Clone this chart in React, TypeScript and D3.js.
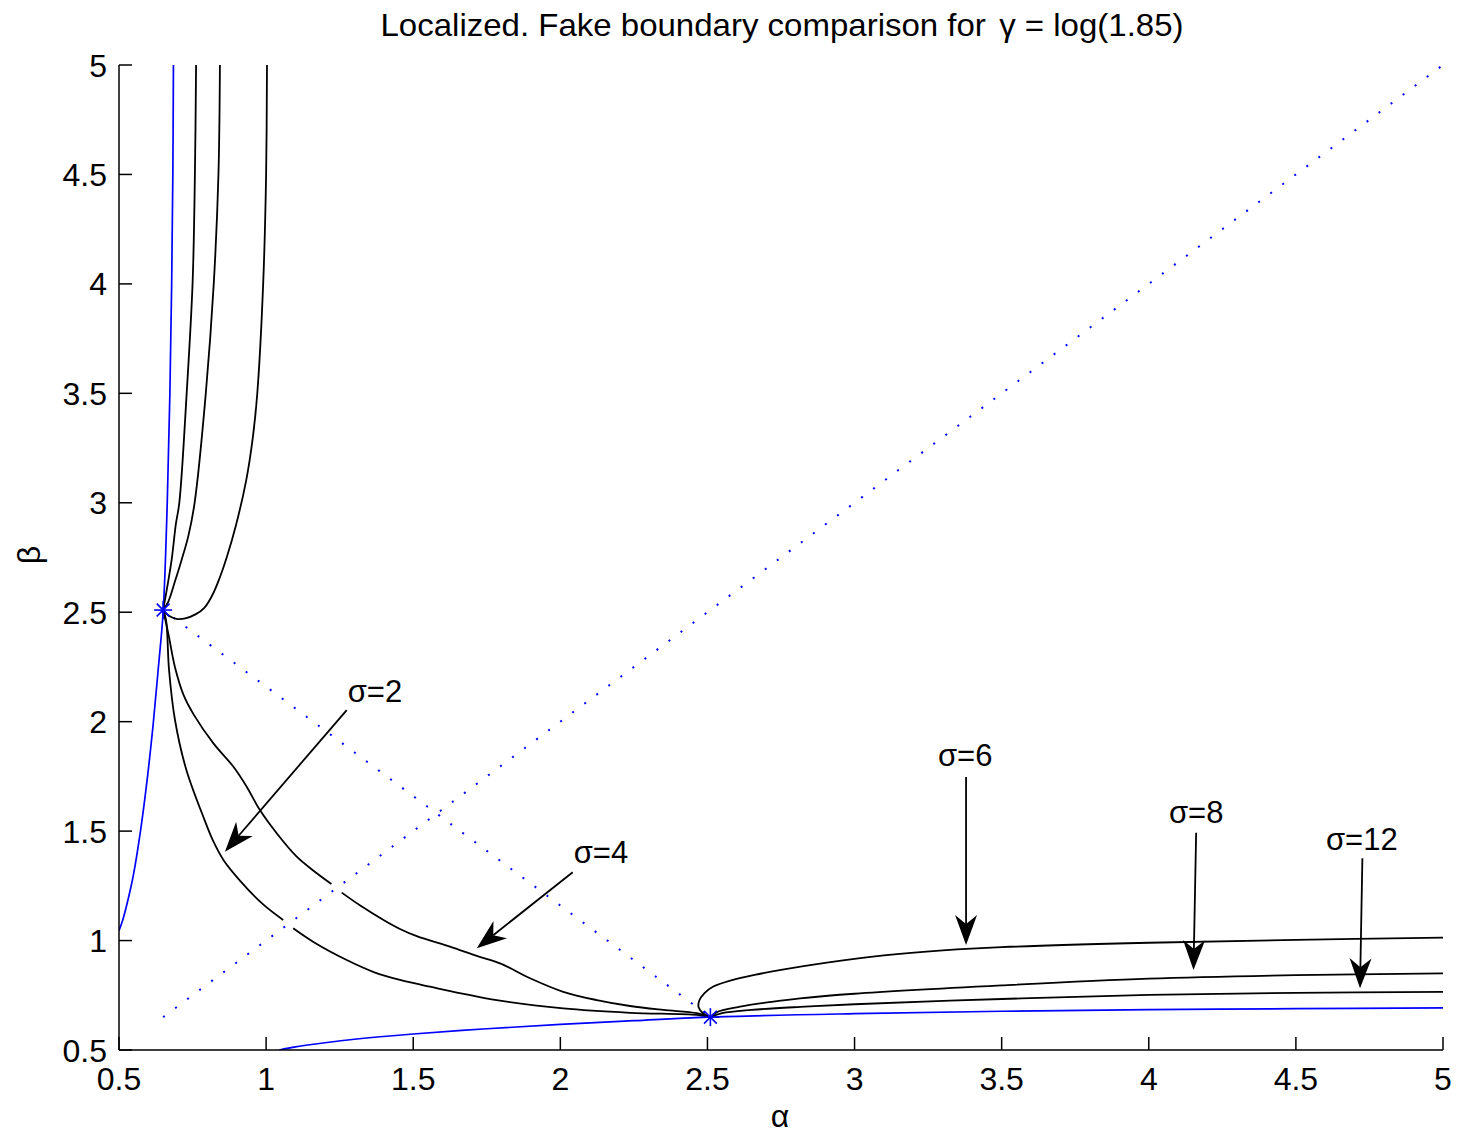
import React from 'react';
import * as d3 from 'd3';

// ---- axes ----
const xTicks = [0.5, 1, 1.5, 2, 2.5, 3, 3.5, 4, 4.5, 5];
const yTicks = [0.5, 1, 1.5, 2, 2.5, 3, 3.5, 4, 4.5, 5];
const xTickLabels = ['0.5', '1', '1.5', '2', '2.5', '3', '3.5', '4', '4.5', '5'];
const yTickLabels = ['0.5', '1', '1.5', '2', '2.5', '3', '3.5', '4', '4.5', '5'];

// ---- blue boundary curves ----
const blueBottomX = [1.045, 1.1, 1.2, 1.3, 1.5, 1.75, 2.0, 2.25, 2.5, 3.0, 3.5, 4.0, 4.5, 5.0];
const blueBottomY = [0.5, 0.514, 0.533, 0.549, 0.573, 0.597, 0.617, 0.634, 0.65, 0.666, 0.677, 0.684, 0.689, 0.692];
const blueLeftX = [0.5, 0.514, 0.533, 0.549, 0.573, 0.597, 0.617, 0.634, 0.65, 0.664, 0.673, 0.679, 0.683, 0.685];
const blueLeftY = [1.045, 1.1, 1.2, 1.3, 1.5, 1.75, 2.0, 2.25, 2.5, 3.0, 3.5, 4.0, 4.5, 5.0];

// ---- stars ----
const starX = [0.65, 2.51];
const starY = [2.51, 0.65];

// ---- dotted guides ----
const diagX = [0.65, 5];
const diagY = [0.65, 5];
const antiX = [0.65, 2.51];
const antiY = [2.51, 0.65];

// ---- sigma = 2 (two halves, split at the diagonal) ----
const s2aX = [0.65, 0.66, 0.67, 0.69, 0.728, 0.789, 0.82, 0.855, 0.911, 0.99, 1.058];
const s2aY = [2.51, 2.464, 2.237, 2.01, 1.784, 1.557, 1.455, 1.368, 1.274, 1.165, 1.094];
const s2bX = [1.092, 1.165, 1.274, 1.368, 1.455, 1.557, 1.784, 2.01, 2.237, 2.464, 2.51];
const s2bY = [1.056, 0.99, 0.911, 0.855, 0.82, 0.789, 0.728, 0.69, 0.67, 0.66, 0.65];

// ---- sigma = 4 ----
const s4aX = [0.65, 0.668, 0.69, 0.72, 0.755, 0.821, 0.889, 0.934, 0.979, 1.036, 1.104, 1.16, 1.222];
const s4aY = [2.51, 2.4, 2.25, 2.12, 2.03, 1.901, 1.794, 1.703, 1.596, 1.49, 1.383, 1.32, 1.258];
const s4bX = [1.257, 1.32, 1.399, 1.455, 1.512, 1.625, 1.716, 1.795, 1.897, 2.01, 2.124, 2.237, 2.35, 2.464, 2.51];
const s4bY = [1.219, 1.16, 1.094, 1.053, 1.02, 0.972, 0.93, 0.896, 0.828, 0.766, 0.728, 0.701, 0.683, 0.668, 0.65];

// ---- sigma = 6 / 8 / 12 (right branches) ----
const s6rX = [2.51, 2.485, 2.47, 2.472, 2.49, 2.52, 2.58, 2.66, 2.75, 2.9, 3.1, 3.3, 3.5, 4.0, 4.5, 5.0];
const s6rY = [0.65, 0.668, 0.695, 0.725, 0.76, 0.79, 0.818, 0.843, 0.866, 0.898, 0.932, 0.955, 0.97, 0.99, 1.003, 1.013];
const s8rX = [2.51, 2.53, 2.611, 2.724, 2.815, 3.0, 3.5, 4.0, 4.5, 5.0];
const s8rY = [0.65, 0.672, 0.698, 0.721, 0.736, 0.757, 0.795, 0.826, 0.842, 0.85];
const s12rX = [2.51, 2.55, 2.65, 2.815, 3.0, 3.5, 4.0, 4.5, 5.0];
const s12rY = [0.65, 0.668, 0.683, 0.697, 0.709, 0.733, 0.752, 0.761, 0.766];

// ---- upper-left branches ----
const s6uX = [0.65, 0.668, 0.695, 0.725, 0.76, 0.79, 0.818, 0.843, 0.866, 0.898, 0.932, 0.955, 0.97, 0.99, 1.0, 1.003];
const s6uY = [2.51, 2.485, 2.47, 2.472, 2.49, 2.52, 2.58, 2.66, 2.75, 2.9, 3.1, 3.3, 3.5, 4.0, 4.5, 5.0];
const s8uX = [0.65, 0.668, 0.69, 0.713, 0.736, 0.757, 0.795, 0.822, 0.838, 0.843];
const s8uY = [2.51, 2.55, 2.64, 2.74, 2.85, 3.0, 3.5, 4.0, 4.5, 5.0];
const s12uX = [0.65, 0.662, 0.679, 0.693, 0.705, 0.73, 0.75, 0.758, 0.762];
const s12uY = [2.51, 2.6, 2.74, 2.9, 3.0, 3.5, 4.0, 4.5, 5.0];

// ---- annotations ----
const annLabels = ['σ=2', 'σ=4', 'σ=6', 'σ=8', 'σ=12'];
const annTextX = [1.370, 2.138, 3.376, 4.161, 4.724];
const annTextY = [2.090, 1.353, 1.797, 1.536, 1.414];
const annFromX = [1.274, 2.042, 3.379, 4.161, 4.726];
const annFromY = [2.053, 1.312, 1.747, 1.493, 1.376];
const annToX = [0.86, 1.716, 3.379, 4.152, 4.718];
const annToY = [1.406, 0.965, 0.98, 0.865, 0.782];

const W = 1460;
const H = 1134;
const FONT = '"Liberation Sans", Arial, Helvetica, sans-serif';

const x = d3.scaleLinear().domain([0.5, 5]).range([119, 1443]);
const y = d3.scaleLinear().domain([0.5, 5]).range([1050, 65]);

const zip = (xs: number[], ys: number[]): [number, number][] => xs.map((v, i) => [v, ys[i]]);
const lineGen = d3
  .line<[number, number]>()
  .x((d) => x(d[0]))
  .y((d) => y(d[1]))
  .curve(d3.curveCatmullRom.alpha(0.5));
const straight = d3
  .line<[number, number]>()
  .x((d) => x(d[0]))
  .y((d) => y(d[1]));

const blackCurves: [number[], number[]][] = [
  [s2aX, s2aY], [s2bX, s2bY], [s4aX, s4aY], [s4bX, s4bY],
  [s6rX, s6rY], [s8rX, s8rY], [s12rX, s12rY],
  [s6uX, s6uY], [s8uX, s8uY], [s12uX, s12uY],
];
const blueCurves: [number[], number[]][] = [
  [blueBottomX, blueBottomY], [blueLeftX, blueLeftY],
];

function Arrow({ x1, y1, x2, y2 }: { x1: number; y1: number; x2: number; y2: number }) {
  const dx = x2 - x1;
  const dy = y2 - y1;
  const len = Math.hypot(dx, dy);
  const ux = dx / len;
  const uy = dy / len;
  const nx = -uy;
  const ny = ux;
  const L = 30;
  const Wd = 11;
  const notch = 21;
  const bx = x2 - ux * L;
  const by = y2 - uy * L;
  const pts = [
    [x2, y2],
    [bx + nx * Wd, by + ny * Wd],
    [x2 - ux * notch, y2 - uy * notch],
    [bx - nx * Wd, by - ny * Wd],
  ];
  return (
    <g>
      <line x1={x1} y1={y1} x2={x2 - ux * notch} y2={y2 - uy * notch} stroke="#000" strokeWidth={1.8} />
      <polygon points={pts.map((p) => p.join(',')).join(' ')} fill="#000" />
    </g>
  );
}

function Star({ cx, cy }: { cx: number; cy: number }) {
  const r = 9;
  const d = 6.4;
  return (
    <g stroke="#0000ff" strokeWidth={1.6}>
      <line x1={cx - r} y1={cy} x2={cx + r} y2={cy} />
      <line x1={cx} y1={cy - r} x2={cx} y2={cy + r} />
      <line x1={cx - d} y1={cy - d} x2={cx + d} y2={cy + d} />
      <line x1={cx - d} y1={cy + d} x2={cx + d} y2={cy - d} />
    </g>
  );
}

export default function App() {
  const x0 = x(0.5);
  const y0 = y(0.5);
  return (
    <svg
      width={W}
      height={H}
      viewBox={`0 0 ${W} ${H}`}
      style={{ position: 'absolute', left: 0, top: 0, display: 'block', background: '#fff' }}
      fontFamily={FONT}
    >
      <rect x={0} y={0} width={W} height={H} fill="#fff" />
      <defs>
        <clipPath id="plotClip">
          <rect x={x(0.5)} y={y(5) - 1} width={x(5) - x(0.5) + 1} height={y(0.5) - y(5) + 1} />
        </clipPath>
      </defs>

      {/* title */}
      <text x={782} y={36} textAnchor="middle" fontSize={32} fill="#000" textLength={803} lengthAdjust="spacingAndGlyphs">
        Localized. Fake boundary comparison for <tspan dx={4}>γ</tspan> = log(1.85)
      </text>

      <g clipPath="url(#plotClip)">
        {/* dotted guides */}
        <path d={straight(zip(diagX, diagY)) || ''} fill="none" stroke="#0000ff" strokeWidth={2} strokeDasharray="2 13" />
        <path d={straight(zip(antiX, antiY)) || ''} fill="none" stroke="#0000ff" strokeWidth={2} strokeDasharray="2 13" strokeDashoffset={-13} />

        {blueCurves.map(([xs, ys], i) => (
          <path key={'b' + i} d={lineGen(zip(xs, ys)) || ''} fill="none" stroke="#0000ff" strokeWidth={1.7} />
        ))}
        {blackCurves.map(([xs, ys], i) => (
          <path key={'k' + i} d={lineGen(zip(xs, ys)) || ''} fill="none" stroke="#000" strokeWidth={1.8} />
        ))}
      </g>

      {starX.map((sx, i) => (
        <Star key={'s' + i} cx={x(sx)} cy={y(starY[i])} />
      ))}

      {/* annotations */}
      {annLabels.map((lab, i) => (
        <g key={'a' + i}>
          <Arrow x1={x(annFromX[i])} y1={y(annFromY[i])} x2={x(annToX[i])} y2={y(annToY[i])} />
          <text x={x(annTextX[i])} y={y(annTextY[i])} textAnchor="middle" fontSize={31} fill="#000">
            {lab}
          </text>
        </g>
      ))}

      {/* axes */}
      <line x1={x0} y1={y(5)} x2={x0} y2={y0} stroke="#000" strokeWidth={1.5} />
      <line x1={x0} y1={y0} x2={x(5)} y2={y0} stroke="#000" strokeWidth={1.5} />
      {xTicks.map((t, i) => (
        <g key={'xt' + i}>
          <line x1={x(t)} y1={y0} x2={x(t)} y2={y0 - 13} stroke="#000" strokeWidth={1.5} />
          <text x={x(t)} y={y0 + 40} textAnchor="middle" fontSize={32} fill="#000">
            {xTickLabels[i]}
          </text>
        </g>
      ))}
      {yTicks.map((t, i) => (
        <g key={'yt' + i}>
          <line x1={x0} y1={y(t)} x2={x0 + 13} y2={y(t)} stroke="#000" strokeWidth={1.5} />
          <text x={x0 - 12} y={y(t) + 11.5} textAnchor="end" fontSize={32} fill="#000">
            {yTickLabels[i]}
          </text>
        </g>
      ))}

      {/* axis labels */}
      <text x={780} y={1127} textAnchor="middle" fontSize={32} fill="#000">
        α
      </text>
      <text x={40} y={555} textAnchor="middle" fontSize={32} fill="#000" transform="rotate(-90 40 555)">
        β
      </text>
    </svg>
  );
}
